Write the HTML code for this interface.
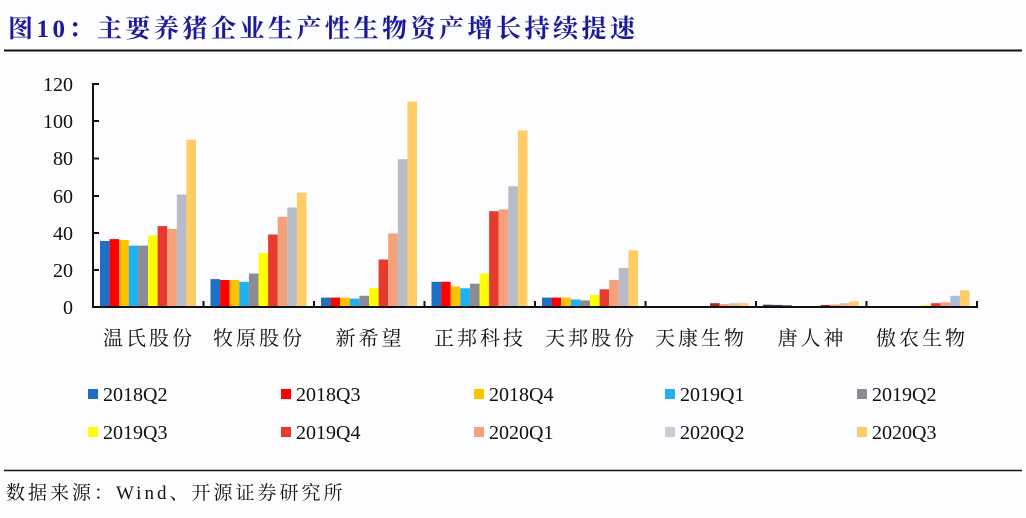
<!DOCTYPE html>
<html><head><meta charset="utf-8"><style>
html,body{margin:0;padding:0;background:#fdfcfe;}
svg{display:block}
</style></head><body>
<svg width="1026" height="518" xmlns="http://www.w3.org/2000/svg">
<rect width="1026" height="518" fill="#fdfcfe"/>
<text x="8" y="37" font-family="Liberation Serif, Noto Serif CJK SC, serif" font-weight="bold" font-size="25" letter-spacing="3.5" fill="#1a1a9a">图10：主要养猪企业生产性生物资产增长持续提速</text>
<line x1="4" y1="50.5" x2="1022" y2="50.5" stroke="#111" stroke-width="2"/>
<line x1="4" y1="470.5" x2="1022" y2="470.5" stroke="#111" stroke-width="1.5"/>
<text x="6" y="499" font-family="Liberation Serif, Noto Serif CJK SC, serif" font-size="19" letter-spacing="3" fill="#111">数据来源：Wind、开源证券研究所</text>

<g font-family="Liberation Serif, serif" font-size="20" fill="#111" text-anchor="end">
<text x="73" y="91">120</text><text x="73" y="128">100</text><text x="73" y="165">80</text>
<text x="73" y="203">60</text><text x="73" y="240">40</text><text x="73" y="277">20</text><text x="73" y="314">0</text>
</g>
<g stroke="#111" stroke-width="2">
<line x1="93" y1="83" x2="93" y2="308"/>
<line x1="92" y1="307" x2="978" y2="307"/>
<line x1="93" y1="84" x2="99" y2="84"/><line x1="93" y1="121" x2="99" y2="121"/><line x1="93" y1="158.5" x2="99" y2="158.5"/>
<line x1="93" y1="196" x2="99" y2="196"/><line x1="93" y1="233" x2="99" y2="233"/><line x1="93" y1="270" x2="99" y2="270"/>
<line x1="203.5" y1="301" x2="203.5" y2="307"/><line x1="314" y1="301" x2="314" y2="307"/><line x1="424.5" y1="301" x2="424.5" y2="307"/>
<line x1="535" y1="301" x2="535" y2="307"/><line x1="645.5" y1="301" x2="645.5" y2="307"/><line x1="756" y1="301" x2="756" y2="307"/>
<line x1="866.5" y1="301" x2="866.5" y2="307"/><line x1="977" y1="301" x2="977" y2="307"/>
</g>

<g transform="translate(0,306) scale(1,-1)">
<g>
<rect x="100" width="9.6" height="65" fill="#1f6fc5"/><rect x="109.6" width="9.6" height="66.9" fill="#ff0000"/><rect x="119.2" width="9.6" height="66" fill="#ffc000"/><rect x="128.8" width="9.6" height="60.4" fill="#1fb0f0"/><rect x="138.4" width="9.6" height="60.4" fill="#8e8a94"/><rect x="148" width="9.6" height="70.6" fill="#ffff00"/><rect x="157.6" width="9.6" height="79.9" fill="#e63a2e"/><rect x="167.2" width="9.6" height="77.1" fill="#f4a07a"/><rect x="176.8" width="9.6" height="111.5" fill="#b8bcc8"/><rect x="186.4" width="9.6" height="166.3" fill="#ffcc66"/>
</g>
<g transform="translate(110.5,0)">
<rect x="100" width="9.6" height="26.9" fill="#1f6fc5"/><rect x="109.6" width="9.6" height="26" fill="#ff0000"/><rect x="119.2" width="9.6" height="26" fill="#ffc000"/><rect x="128.8" width="9.6" height="24.2" fill="#1fb0f0"/><rect x="138.4" width="9.6" height="32.5" fill="#8e8a94"/><rect x="148" width="9.6" height="53" fill="#ffff00"/><rect x="157.6" width="9.6" height="71.5" fill="#e63a2e"/><rect x="167.2" width="9.6" height="89.2" fill="#f4a07a"/><rect x="176.8" width="9.6" height="98.5" fill="#b8bcc8"/><rect x="186.4" width="9.6" height="113.3" fill="#ffcc66"/>
</g>
<g transform="translate(221,0)">
<rect x="100" width="9.6" height="8.4" fill="#1f6fc5"/><rect x="109.6" width="9.6" height="8.4" fill="#ff0000"/><rect x="119.2" width="9.6" height="8.4" fill="#ffc000"/><rect x="128.8" width="9.6" height="7.4" fill="#1fb0f0"/><rect x="138.4" width="9.6" height="10.2" fill="#8e8a94"/><rect x="148" width="9.6" height="17.7" fill="#ffff00"/><rect x="157.6" width="9.6" height="46.5" fill="#e63a2e"/><rect x="167.2" width="9.6" height="72.5" fill="#f4a07a"/><rect x="176.8" width="9.6" height="146.8" fill="#b8bcc8"/><rect x="186.4" width="9.6" height="204.4" fill="#ffcc66"/>
</g>
<g transform="translate(331.5,0)">
<rect x="100" width="9.6" height="24.2" fill="#1f6fc5"/><rect x="109.6" width="9.6" height="24.2" fill="#ff0000"/><rect x="119.2" width="9.6" height="19.5" fill="#ffc000"/><rect x="128.8" width="9.6" height="17.7" fill="#1fb0f0"/><rect x="138.4" width="9.6" height="22.3" fill="#8e8a94"/><rect x="148" width="9.6" height="32.5" fill="#ffff00"/><rect x="157.6" width="9.6" height="94.8" fill="#e63a2e"/><rect x="167.2" width="9.6" height="96.6" fill="#f4a07a"/><rect x="176.8" width="9.6" height="119.8" fill="#b8bcc8"/><rect x="186.4" width="9.6" height="175.6" fill="#ffcc66"/>
</g>
<g transform="translate(442,0)">
<rect x="100" width="9.6" height="8.4" fill="#1f6fc5"/><rect x="109.6" width="9.6" height="8.4" fill="#ff0000"/><rect x="119.2" width="9.6" height="8.4" fill="#ffc000"/><rect x="128.8" width="9.6" height="6.5" fill="#1fb0f0"/><rect x="138.4" width="9.6" height="5.6" fill="#8e8a94"/><rect x="148" width="9.6" height="11.1" fill="#ffff00"/><rect x="157.6" width="9.6" height="16.7" fill="#e63a2e"/><rect x="167.2" width="9.6" height="26" fill="#f4a07a"/><rect x="176.8" width="9.6" height="38.1" fill="#b8bcc8"/><rect x="186.4" width="9.6" height="55.7" fill="#ffcc66"/>
</g>
<g transform="translate(552.5,0)">
<rect x="157.6" width="9.6" height="2.8" fill="#a02a20"/><rect x="167.2" width="9.6" height="1.9" fill="#f4a07a"/><rect x="176.8" width="9.6" height="2.8" fill="#e0c090"/><rect x="186.4" width="9.6" height="2.8" fill="#ffcc66"/>
</g>
<g transform="translate(663,0)">
<rect x="100" width="9.6" height="1.3" fill="#1f3f75"/><rect x="109.6" width="9.6" height="1.1" fill="#444"/><rect x="119.2" width="9.6" height="0.8" fill="#555"/><rect x="157.6" width="9.6" height="1" fill="#a02a20"/><rect x="167.2" width="9.6" height="1.5" fill="#f4a07a"/><rect x="176.8" width="9.6" height="2.8" fill="#e0c090"/><rect x="186.4" width="9.6" height="4.6" fill="#ffcc66"/>
</g>
<g transform="translate(773.5,0)">
<rect x="148" width="9.6" height="0.9" fill="#ffff00"/><rect x="157.6" width="9.6" height="2.8" fill="#e63a2e"/><rect x="167.2" width="9.6" height="3.7" fill="#f4a07a"/><rect x="176.8" width="9.6" height="10.2" fill="#b0bcd8"/><rect x="186.4" width="9.6" height="15.8" fill="#ffcc66"/>
</g>
</g>

<g font-family="Liberation Serif, Noto Serif CJK SC, serif" font-size="20" fill="#111" text-anchor="middle" letter-spacing="3">
<text x="149" y="345">温氏股份</text><text x="259" y="345">牧原股份</text><text x="370" y="345">新希望</text><text x="480" y="345">正邦科技</text>
<text x="591" y="345">天邦股份</text><text x="701" y="345">天康生物</text><text x="812" y="345">唐人神</text><text x="922" y="345">傲农生物</text>
</g>

<g font-family="Liberation Serif, serif" font-size="20" fill="#111">
<rect x="88" y="389" width="10" height="10" fill="#1f6fc5"/><text x="103" y="401">2018Q2</text>
<rect x="281" y="389" width="10" height="10" fill="#ff0000"/><text x="296" y="401">2018Q3</text>
<rect x="474" y="389" width="10" height="10" fill="#ffc000"/><text x="489" y="401">2018Q4</text>
<rect x="665" y="389" width="10" height="10" fill="#1fb0f0"/><text x="680" y="401">2019Q1</text>
<rect x="857" y="389" width="10" height="10" fill="#8e8a94"/><text x="872" y="401">2019Q2</text>
<rect x="88" y="427" width="10" height="10" fill="#ffff00"/><text x="103" y="439">2019Q3</text>
<rect x="281" y="427" width="10" height="10" fill="#e63a2e"/><text x="296" y="439">2019Q4</text>
<rect x="474" y="427" width="10" height="10" fill="#f4a07a"/><text x="489" y="439">2020Q1</text>
<rect x="665" y="427" width="10" height="10" fill="#c8ccd6"/><text x="680" y="439">2020Q2</text>
<rect x="857" y="427" width="10" height="10" fill="#ffcc66"/><text x="872" y="439">2020Q3</text>
</g>
</svg>
</body></html>
